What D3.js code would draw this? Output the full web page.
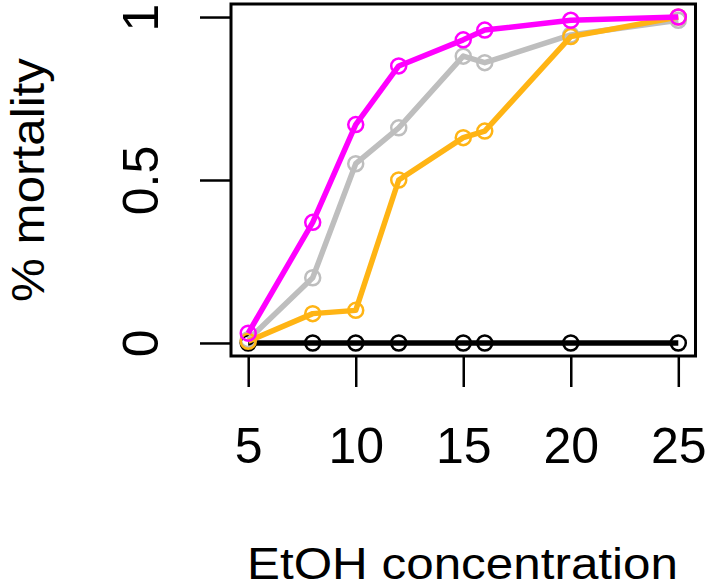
<!DOCTYPE html>
<html><head><meta charset="utf-8">
<script src="https://cdn.jsdelivr.net/npm/d3@7"></script>
<style>body{margin:0;background:#fff}svg{display:block}text{font-family:"Liberation Sans",Arial,sans-serif;fill:#000}</style>
</head><body>
<svg id="c" width="707" height="588"></svg>
<script>
const concentrations = [5, 8, 10, 12, 15, 16, 20, 25];
const seriesBlack   = [0, 0, 0, 0, 0, 0, 0, 0];
const seriesGrey    = [0.01, 0.20, 0.55, 0.66, 0.88, 0.86, 0.945, 0.99];
const seriesOrange  = [0.005, 0.09, 0.10, 0.50, 0.63, 0.65, 0.94, 1.0];
const seriesMagenta = [0.03, 0.37, 0.67, 0.85, 0.93, 0.96, 0.99, 1.0];
const xTicks = [5, 10, 15, 20, 25];
const yTicks = [0, 0.5, 1];
const xLabel = "EtOH concentration";
const yLabel = "% mortality";

const series = [
  {values: seriesBlack, color: "#000000"},
  {values: seriesGrey, color: "#BEBEBE"},
  {values: seriesOrange, color: "#FFB414"},
  {values: seriesMagenta, color: "#FF00FF"}
];

const svg = d3.select("#c");
const L = 231, R = 695.5, T = 4, B = 356;
const x = d3.scaleLinear().domain([4.2, 25.8]).range([L, R]);
const y = d3.scaleLinear().domain([-0.04, 1.04]).range([B, T]);

const line = d3.line().x((d,i) => x(concentrations[i])).y(d => y(d));
series.forEach(s => {
  svg.append("path").datum(s.values).attr("d", line)
    .attr("fill", "none").attr("stroke", s.color).attr("stroke-width", 5.5)
    .attr("stroke-linejoin", "round");
  svg.selectAll(null).data(s.values).enter().append("circle")
    .attr("cx", (d,i) => x(concentrations[i])).attr("cy", d => y(d))
    .attr("r", 7.5).attr("fill", "none").attr("stroke", s.color).attr("stroke-width", 2.5);
});

svg.append("rect").attr("x", L).attr("y", T).attr("width", R - L).attr("height", B - T)
  .attr("fill", "none").attr("stroke", "#000").attr("stroke-width", 3);

const xAxis = d3.axisBottom(x).tickValues(xTicks).tickSize(31).tickPadding(40).tickFormat(d3.format("d"));
const gx = svg.append("g").attr("transform", `translate(0,${B})`).call(xAxis);
gx.select(".domain").remove();
gx.selectAll("line").attr("stroke-width", 2.5);
gx.selectAll("text").attr("font-size", 50).attr("font-family", "Liberation Sans, Arial, sans-serif").attr("dy", "0.71em");

const yAxis = d3.axisLeft(y).tickValues(yTicks).tickSize(31).tickPadding(0).tickFormat(d => d === 0.5 ? "0.5" : String(d));
const gy = svg.append("g").attr("transform", `translate(${L},0)`).call(yAxis);
gy.select(".domain").remove();
gy.selectAll("line").attr("stroke-width", 2.5);
gy.selectAll("text").attr("font-size", 50).attr("font-family", "Liberation Sans, Arial, sans-serif")
  .attr("x", null).attr("dy", null)
  .attr("text-anchor", "middle")
  .attr("transform", "translate(-73,0) rotate(-90)");

svg.append("text").attr("x", 462.5).attr("y", 579).attr("text-anchor", "middle")
  .attr("font-size", 44).attr("textLength", 431).attr("lengthAdjust", "spacingAndGlyphs").text(xLabel);
svg.append("text").attr("transform", "translate(44,180) rotate(-90)").attr("text-anchor", "middle")
  .attr("font-size", 46).attr("textLength", 244).attr("lengthAdjust", "spacingAndGlyphs").text(yLabel);
</script>
</body></html>
